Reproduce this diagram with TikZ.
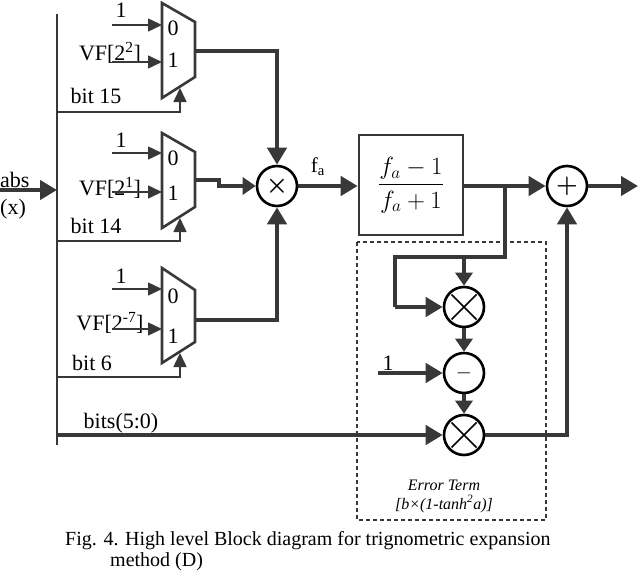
\documentclass[tikz,border=0pt]{standalone}
\usepackage[no-math]{fontspec}
\setmainfont{Liberation Serif}
\usepackage{amsmath}
\usepackage{tikz}
\usetikzlibrary{positioning}
\usetikzlibrary{arrows.meta}
\definecolor{ink}{HTML}{383838}

\tikzset{
  wire/.style={line width=1.5pt, draw=ink},
  bus/.style={line width=4.5pt, draw=ink},
  muxline/.style={line width=2.6pt, draw=ink},
  thinhead/.style={-{Triangle[length=14pt,width=13pt]}},
  fathead/.style={-{Triangle[length=17pt,width=19pt]}},
  shorthead/.style={-{Triangle[length=13pt,width=17pt]}},
  op/.style={circle, draw=black, line width=2.6pt, minimum size=40pt, inner sep=0pt},
  crossop/.style={op, path picture={
      \draw[line width=1.5pt] ([shift={(-12.5pt,-12.5pt)}]path picture bounding box.center)
        -- ([shift={(12.5pt,12.5pt)}]path picture bounding box.center);
      \draw[line width=1.5pt] ([shift={(-12.5pt,12.5pt)}]path picture bounding box.center)
        -- ([shift={(12.5pt,-12.5pt)}]path picture bounding box.center);}},
  lbl/.style={font=\fontsize{22}{22}\selectfont, inner sep=0pt, anchor=base},
  errlbl/.style={font=\fontsize{16}{16}\selectfont\itshape, inner sep=0pt, anchor=base},
  caplbl/.style={font=\fontsize{20}{20}\selectfont, inner sep=0pt, anchor=base west},
}

\begin{document}
\begin{tikzpicture}[x=1pt,y=-1pt]
      \useasboundingbox (0,0) rectangle (640,578);

      % input and bus
      \coordinate(xin) at (0,190);
      \coordinate(xbus) at (57,190);
      \coordinate(bustop) at (57,14);
      \coordinate(busbot) at (57,445);
      \node(abs) [lbl,anchor=base west] at (0,187) {abs};
      \node(absx) [lbl,anchor=base west] at (0,214) {(x)};
      \draw[wire] (bustop) -- (busbot);
      \draw[bus,fathead] (xin) -- (xbus);

      % mux for bit 15
      \draw[muxline] (162,3) -- (195,22) -- (195,77) -- (162,98) -- cycle;
      \node(zeroA) [lbl] at (173,36) {0};
      \node(oneA) [lbl] at (173,68) {1};
      \node(cA) [lbl] at (121,18) {1};
      \node(vfA) [lbl] at (110,60) {VF[2\textsuperscript{2}]};
      \node(bitA) [lbl] at (96,103) {bit 15};
      \coordinate(cAin) at (112,25);
      \coordinate(vfAin) at (112,62);
      \coordinate(muxA0) at (162,25);
      \coordinate(muxA1) at (162,62);
      \coordinate(selA) at (57,112);
      \coordinate(selAc) at (180,112);
      \coordinate(selAtip) at (180,88);
      \coordinate(muxAout) at (195,51);
      \coordinate(muxAbend) at (277,51);

      % mux for bit 14
      \draw[muxline] (162,133) -- (195,152) -- (195,207) -- (162,228) -- cycle;
      \node(zeroB) [lbl] at (173,165) {0};
      \node(oneB) [lbl] at (173,200) {1};
      \node(cB) [lbl] at (121,147) {1};
      \node(vfB) [lbl] at (110,195) {VF[2\textsuperscript{1}]};
      \node(bitB) [lbl] at (96,233) {bit 14};
      \coordinate(cBin) at (112,153);
      \coordinate(vfBin) at (112,192);
      \coordinate(muxB0) at (162,153);
      \coordinate(muxB1) at (162,192);
      \coordinate(selB) at (57,241);
      \coordinate(selBc) at (180,241);
      \coordinate(selBtip) at (180,218);
      \coordinate(muxBout) at (195,180);
      \coordinate(muxBstep) at (219,180);
      \coordinate(muxBlow) at (219,186);

      % mux for bit 6
      \draw[muxline] (162,268) -- (195,290) -- (195,342) -- (162,363) -- cycle;
      \node(zeroC) [lbl] at (173,303) {0};
      \node(oneC) [lbl] at (173,343) {1};
      \node(cC) [lbl] at (121,283) {1};
      \node(vfC) [lbl] at (110,330) {VF[2\textsuperscript{-7}]};
      \node(bitC) [lbl] at (92,370) {bit 6};
      \coordinate(cCin) at (112,289);
      \coordinate(vfCin) at (112,329);
      \coordinate(muxC0) at (162,289);
      \coordinate(muxC1) at (162,329);
      \coordinate(selC) at (57,377);
      \coordinate(selCc) at (180,377);
      \coordinate(selCtip) at (180,353);
      \coordinate(muxCout) at (195,320);
      \coordinate(muxCbend) at (277,320);

      \draw[wire,thinhead] (cAin) -- (muxA0);
      \draw[wire,thinhead] (vfAin) -- (muxA1);
      \draw[wire,thinhead] (selA) -- (selAc) -- (selAtip);
      \draw[wire,thinhead] (cBin) -- (muxB0);
      \draw[wire,thinhead] (vfBin) -- (muxB1);
      \draw[wire,thinhead] (selB) -- (selBc) -- (selBtip);
      \draw[wire,thinhead] (cCin) -- (muxC0);
      \draw[wire,thinhead] (vfCin) -- (muxC1);
      \draw[wire,thinhead] (selC) -- (selCc) -- (selCtip);

      % product and fraction
      \node(mulA) [op] at (277,186) {\fontsize{24}{24}\selectfont$\boldsymbol{\times}$};
      \node(fa) [lbl,font=\fontsize{21}{21}\selectfont] at (318,172) {f\textsubscript{a}};
      \node(frac) [draw=ink,line width=2.6pt,minimum width=104pt,minimum height=100pt,inner sep=0pt]
        at (411,185) {\fontsize{27}{32}\selectfont$\dfrac{f_a-1}{f_a+1}$};
      \node(add) [op] at (567,186) {\fontsize{27}{27}\selectfont$\boldsymbol{+}$};
      \coordinate(out) at (638,186);

      \draw[bus,fathead] (muxAout) -- (muxAbend) -- (mulA);
      \draw[bus,shorthead] (muxBout) -- (muxBstep) -- (muxBlow) -- (mulA);
      \draw[bus,fathead] (muxCout) -- (muxCbend) -- (mulA);
      \draw[bus,fathead] (mulA) -- (mulA -| frac.west);
      \draw[bus,fathead] (frac.east |- add) -- (add);
      \draw[bus,fathead] (add) -- (out);

      % error term
      \draw[wire,line width=1.1pt,dash pattern=on 4pt off 3pt] (357,242) rectangle (546,520);
      \node(mulB) [crossop] at (464,307) {};
      \node(sub) [op] at (464,373) {\fontsize{22}{22}\selectfont$-$};
      \node(mulC) [crossop] at (464,435) {};
      \node(cD) [lbl] at (388,370) {1};
      \node(errA) [errlbl] at (444,490) {Error Term};
      \node(errB) [errlbl] at (444,509) {[b×(1-tanh\textsuperscript{2}a)]};
      \node(bits) [lbl] at (121,428) {bits(5:0)};
      \coordinate(br) at (505,186);
      \coordinate(brd) at (505,257);
      \coordinate(brm) at (464,257);
      \coordinate(brl) at (395,257);
      \coordinate(brb) at (395,307);
      \coordinate(cDin) at (378,373);
      \coordinate(bitsin) at (57,435);
      \coordinate(back) at (567,435);

      \draw[bus] (br) -- (brd) -- (brl) -- (brb);
      \draw[bus,fathead] (brb) -- (mulB);
      \draw[bus,shorthead] (brm) -- (mulB);
      \draw[bus,shorthead] (mulB) -- (sub);
      \draw[bus,shorthead] (sub) -- (mulC);
      \draw[bus,fathead] (cDin) -- (sub);
      \draw[bus,fathead] (bitsin) -- (mulC);
      \draw[bus,fathead] (mulC) -- (back) -- (add);

      % caption
      \node(capA) [caplbl] at (65,545) {Fig. 4. High level Block diagram for trignometric expansion};
      \node(capB) [caplbl] at (110,566) {method (D)};
    \end{tikzpicture}
\end{document}
